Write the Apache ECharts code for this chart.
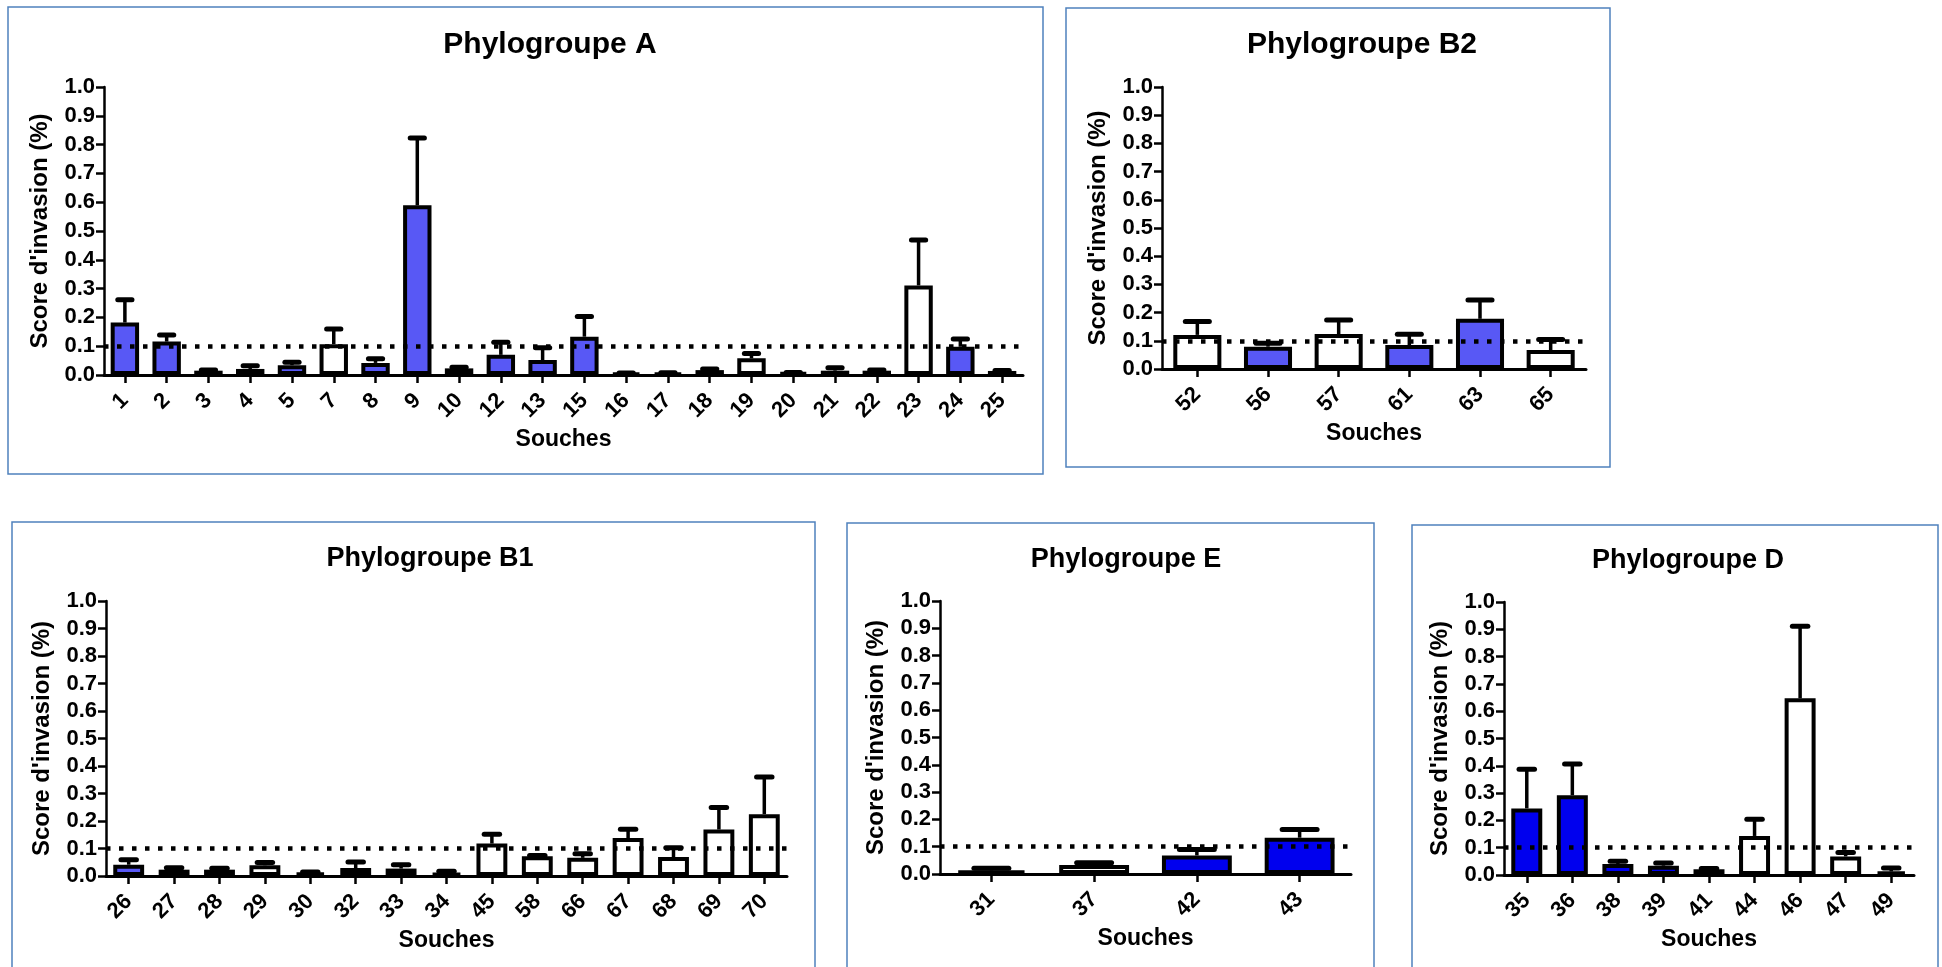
<!DOCTYPE html>
<html><head><meta charset="utf-8">
<script src="https://cdn.jsdelivr.net/npm/echarts@6/dist/echarts.min.js"></script>
<style>html,body{margin:0;padding:0;background:#fff}#c{width:1942px;height:967px}</style>
</head><body><div id="c"></div>
<script>
// ---------- DATA ----------
const threshold = 0.1;
const yTicks = ['0.0','0.1','0.2','0.3','0.4','0.5','0.6','0.7','0.8','0.9','1.0'];

const titleA = 'Phylogroupe A';
const catA  = ['1','2','3','4','5','7','8','9','10','12','13','15','16','17','18','19','20','21','22','23','24','25'];
const meanA = [0.182,0.116,0.015,0.021,0.034,0.107,0.042,0.589,0.023,0.070,0.052,0.133,0.006,0.006,0.017,0.058,0.008,0.015,0.015,0.311,0.098,0.014];
const sdA   = [0.079,0.023,0.002,0.011,0.010,0.053,0.014,0.234,0.004,0.044,0.043,0.070,0.001,0.002,0.004,0.017,0.001,0.010,0.002,0.158,0.027,0.002];
const fillA = [1,1,1,1,1,0,1,1,1,1,1,1,1,0,0,0,0,1,1,0,1,1];

const titleB2 = 'Phylogroupe B2';
const catB2  = ['52','56','57','61','63','65'];
const meanB2 = [0.121,0.079,0.124,0.085,0.178,0.067];
const sdB2   = [0.047,0.012,0.050,0.038,0.067,0.038];
const fillB2 = [0,1,0,1,1,0];

const titleB1 = 'Phylogroupe B1';
const catB1  = ['26','27','28','29','30','32','33','34','45','58','66','67','68','69','70'];
const meanB1 = [0.041,0.023,0.023,0.039,0.012,0.029,0.027,0.011,0.118,0.072,0.066,0.138,0.069,0.169,0.225];
const sdB1   = [0.018,0.007,0.005,0.010,0.003,0.022,0.014,0.006,0.034,0.003,0.015,0.032,0.034,0.080,0.135];
const fillB1 = [1,1,1,0,0,0,0,0,0,0,0,0,0,0,0];

const titleE = 'Phylogroupe E';
const catE  = ['31','37','42','43'];
const meanE = [0.013,0.033,0.068,0.133];
const sdE   = [0.008,0.008,0.022,0.030];
const fillE = [1,0,1,1];

const titleD = 'Phylogroupe D';
const catD  = ['35','36','38','39','41','44','46','47','49'];
const meanD = [0.244,0.292,0.040,0.034,0.021,0.143,0.647,0.068,0.013];
const sdD   = [0.143,0.115,0.010,0.010,0.003,0.061,0.264,0.014,0.013];
const fillD = [1,1,1,1,1,0,0,0,0];

const xName = 'Souches';
const yName = "Score d'invasion (%)";

// ---------- LAYOUT / STYLE ----------
const FONT = '"Liberation Sans", Arial, sans-serif';
const BLUE_LIGHT = '#5858f5';
const BLUE_DARK = '#0000ee';

const panels = [
  {title:titleA, cats:catA, mean:meanA, sd:sdA, fill:fillA, blue:BLUE_LIGHT,
   grid:{left:104, top:87, width:919, height:288}, box:[8,7,1043,474], tx:550, ty:45, ts:30},
  {title:titleB2, cats:catB2, mean:meanB2, sd:sdB2, fill:fillB2, blue:BLUE_LIGHT,
   grid:{left:1162, top:87, width:424, height:282}, box:[1066,8,1610,467], tx:1362, ty:45, ts:30},
  {title:titleB1, cats:catB1, mean:meanB1, sd:sdB1, fill:fillB1, blue:BLUE_LIGHT,
   grid:{left:106, top:601, width:681, height:275}, box:[12,522,815,990], tx:430, ty:559, ts:27},
  {title:titleE, cats:catE, mean:meanE, sd:sdE, fill:fillE, blue:BLUE_DARK,
   grid:{left:940, top:601, width:411, height:273}, box:[847,523,1374,990], tx:1126, ty:560, ts:27},
  {title:titleD, cats:catD, mean:meanD, sd:sdD, fill:fillD, blue:BLUE_DARK,
   grid:{left:1504, top:602, width:410, height:273}, box:[1412,525,1938,990], tx:1688, ty:561, ts:27}
];

const BAR_FRAC = 0.68;
const grids = [], xAxes = [], yAxes = [], series = [], graphics = [];

panels.forEach((p, i) => {
  grids.push(Object.assign({containLabel:false}, p.grid));
  xAxes.push({
    type:'category', gridIndex:i, data:p.cats,
    axisLine:{show:true, onZero:false, lineStyle:{color:'#000', width:3}},
    axisTick:{show:true, alignWithLabel:true, length:8, lineStyle:{color:'#000', width:2.5}},
    axisLabel:{show:true, interval:0, rotate:45, margin:22, color:'#000', fontSize:22, fontWeight:'bold', fontFamily:FONT},
    splitLine:{show:false},
    name:xName, nameLocation:'middle', nameGap:53,
    nameTextStyle:{color:'#000', fontSize:23, fontWeight:'bold', fontFamily:FONT}
  });
  yAxes.push({
    type:'value', gridIndex:i, min:0, max:1, interval:0.1,
    axisLine:{show:true, lineStyle:{color:'#000', width:2.5}},
    axisTick:{show:true, length:8, lineStyle:{color:'#000', width:2.5}},
    axisLabel:{show:true, margin:9, color:'#000', fontSize:22, fontWeight:'bold', fontFamily:FONT,
      formatter:(v)=>yTicks[Math.round(v*10)]},
    splitLine:{show:false},
    name:yName, nameLocation:'middle', nameGap:52,
    nameTextStyle:{color:'#000', fontSize:24, fontWeight:'bold', fontFamily:FONT}
  });
  series.push({
    type:'bar', xAxisIndex:i, yAxisIndex:i, barWidth:(BAR_FRAC*100)+'%',
    data:p.mean.map((v,j)=>({value:v, itemStyle:{color:p.fill[j]?p.blue:'#ffffff'}})),
    itemStyle:{borderColor:'#000', borderWidth:4},
    z:2, silent:true,
    markLine:{silent:true, symbol:['none','none'], label:{show:false}, z:10,
      lineStyle:{color:'#000', width:4.5, type:[4.5,8.5]},
      data:[{yAxis:threshold}]}
  });
  series.push({
    type:'custom', xAxisIndex:i, yAxisIndex:i, z:3, silent:true,
    encode:{x:0, y:1},
    data:p.mean.map((v,j)=>[j, v, p.sd[j]]),
    renderItem:(params, api) => {
      const x = api.value(0), m = api.value(1), s = api.value(2);
      const p0 = api.coord([x, m]), p1 = api.coord([x, m + s]);
      const bw = api.size([1,0])[0] * BAR_FRAC;
      const hw = bw * 0.25;
      return {type:'group', children:[
        {type:'line', shape:{x1:p0[0], y1:p0[1], x2:p1[0], y2:p1[1]}, style:{stroke:'#000', lineWidth:3.5}},
        {type:'line', shape:{x1:p1[0]-hw, y1:p1[1], x2:p1[0]+hw, y2:p1[1]}, style:{stroke:'#000', lineWidth:5, lineCap:'round'}}
      ]};
    }
  });
  const b = p.box;
  graphics.push({type:'rect', shape:{x:b[0], y:b[1], width:b[2]-b[0], height:b[3]-b[1]},
    style:{fill:'none', stroke:'#4f81bd', lineWidth:1.5}, silent:true});
  graphics.push({type:'text', x:p.tx, y:p.ty,
    style:{text:p.title, fill:'#000', font:'bold ' + p.ts + 'px ' + FONT, textAlign:'center', textVerticalAlign:'middle'}});
});

const chart = echarts.init(document.getElementById('c'), null, {renderer:'canvas'});
chart.setOption({
  backgroundColor:'#ffffff',
  animation:false,
  grid:grids, xAxis:xAxes, yAxis:yAxes, series:series,
  graphic:graphics
});
</script></body></html>
